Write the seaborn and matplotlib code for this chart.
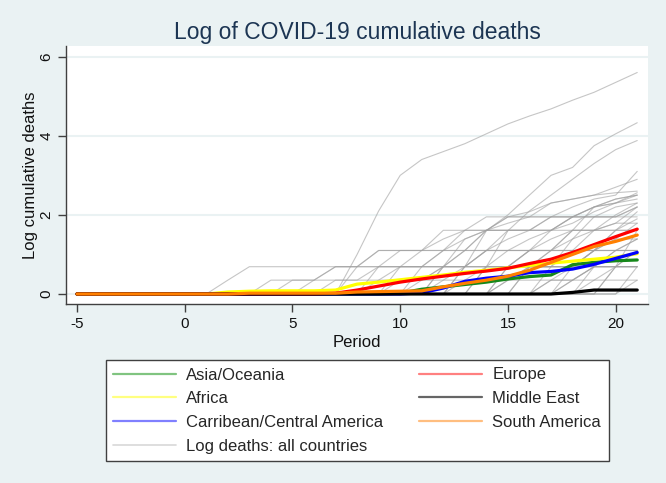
import matplotlib
matplotlib.use("Agg")
import matplotlib.pyplot as plt
from matplotlib.lines import Line2D
import pandas as pd
import seaborn as sns

# Periods shown on the x axis
periods = list(range(-5, 22))

# Regional averages (log cumulative deaths), one value per period -5..21
asia_oceania = [0] * 15 + [0.02, 0.12, 0.18, 0.24, 0.30, 0.38, 0.44, 0.48, 0.74, 0.80, 0.84, 0.86]
africa = [0] * 7 + [0.05, 0.07, 0.08, 0.08, 0.08, 0.10, 0.25, 0.30, 0.36, 0.42, 0.48, 0.55,
                    0.60, 0.66, 0.72, 0.78, 0.83, 0.88, 0.93, 1.02]
carribean = [0] * 16 + [0.03, 0.15, 0.32, 0.40, 0.45, 0.54, 0.57, 0.63, 0.75, 0.90, 1.05]
europe = [0] * 12 + [0.02, 0.10, 0.20, 0.30, 0.38, 0.45, 0.52, 0.58, 0.65, 0.77, 0.88,
                     1.05, 1.25, 1.45, 1.64]
middle_east = [0] * 23 + [0.04, 0.10, 0.10, 0.10]
south_america = [0] * 8 + [0.02] * 5 + [0.05, 0.06, 0.07, 0.08, 0.18, 0.27, 0.35, 0.45,
                                        0.60, 0.80, 1.00, 1.20, 1.33, 1.49]

region_names = ["Asia/Oceania", "Africa", "Carribean/Central America",
                "Europe", "Middle East", "South America"]
region_colors = ["#16881a", "#ffff00", "#0000ff", "#ff0000", "#000000", "#ff8000"]
legend_colors = ["#80c480", "#ffff80", "#8080ff", "#ff8080", "#666666", "#ffbe80"]

# Individual countries: (period of last zero, values from that period on to 21)
country_paths = [
    (7, [0, 1.0, 2.1, 3.0, 3.4, 3.6, 3.8, 4.05, 4.3, 4.5, 4.68, 4.9, 5.1, 5.35, 5.6]),
    (12, [0, 0.69, 1.6, 2.0, 2.5, 3.0, 3.2, 3.75, 4.05, 4.33]),
    (13, [0, 0.69, 1.6, 2.1, 2.5, 2.9, 3.3, 3.65, 3.88]),
    (9, [0, 0.69, 1.1, 1.1, 1.61, 1.61, 1.95, 2.08, 2.3, 2.4, 2.5, 2.56, 2.6]),
    (10, [0, 0.69, 1.1, 1.39, 1.61, 1.79, 1.95, 2.3, 2.4, 2.5, 2.7, 2.9]),
    (11, [0, 0.69, 1.1, 1.1, 1.39, 1.61, 1.95, 2.2, 2.4, 2.5, 3.1]),
    (14, [0, 0.69, 1.1, 1.61, 1.95, 2.2, 2.3, 2.4]),
    (8, [0, 0.69, 1.1, 1.1, 1.61, 1.61, 1.61, 1.61, 1.61, 1.61, 1.61, 1.61, 1.61, 1.61]),
    (7, [0, 0.69] + [1.1] * 13),
    (1, [0, 0.35] + [0.69] * 19),
    (3, [0] + [0.35] * 18),
    (5, [0, 0.35, 0.69, 0.69, 1.1, 1.1, 1.1, 1.39, 1.61] + [1.95] * 8),
    (15, [0, 0.69, 1.1, 1.61, 2.2, 2.4, 2.5]),
    (16, [0, 0.69, 1.39, 1.95, 2.2, 2.3]),
    (12, [0, 0.35, 0.69, 0.69, 1.1, 1.1, 1.1, 1.61, 1.79, 1.79]),
    (17, [0, 0.69, 1.1, 1.61, 2.08]),
    (13, [0, 0, 0.35, 0.69, 0.69, 0.69, 1.1, 1.1, 1.1]),
    (18, [0, 0.69, 1.1, 1.39]),
    (19, [0, 0.69, 1.1]),
    (10, [0, 0.35, 0.69, 0.69, 0.69, 0.69, 0.69, 0.69, 1.1, 1.1, 1.1, 1.1]),
    (6, [0, 0.35, 0.35, 0.69, 0.69, 0.69, 1.1, 1.1, 1.61, 1.61, 1.61, 1.61, 1.95, 1.95, 1.95, 2.2]),
    (11, [0, 0.69, 1.39, 1.61, 1.95, 1.95, 1.95, 1.95, 1.95, 1.95, 2.2]),
    (14, [0, 0.69, 1.1, 1.1, 1.61, 1.61, 2.0, 2.3]),
    (16, [0, 0.35, 0.69, 1.1, 1.61, 1.9]),
    (19, [0, 0.69, 1.61]),
    (20, [0, 0.69]),
    (15, [0, 0, 0.35, 0.35, 0.69, 0.69, 0.69]),
    (9, [0, 0.35, 0.35, 0.69, 1.1, 1.61, 1.61, 1.61, 1.61, 1.79, 2.08, 2.3, 2.5]),
    (12, [0, 0.69, 1.1, 1.61, 1.61, 1.95, 1.95, 2.2, 2.4, 2.5]),
    (17, [0, 0.35, 0.69, 0.69, 1.1]),
    (4, [0, 0.35, 0.35] + [0.69] * 15),
    (13, [0, 0.69, 1.1, 1.39, 1.61, 1.95, 2.2, 2.3, 2.56]),
    (18, [0, 0.35, 0.69, 0.69]),
    (11, [0, 0.35, 0.69, 1.1, 1.1, 1.1, 1.39, 1.61, 1.61, 1.61, 1.61]),
    (20, [0, 0.35]),
    (14, [0, 0.35, 0.69, 0.69, 0.69, 1.1, 1.39, 1.79]),
    (15, [0, 0.69, 1.1, 1.39, 1.61, 1.79, 2.2]),
    (16, [0, 0, 0.35, 0.69, 1.1, 1.39]),
    (8, [0, 0.35, 0.69, 0.69, 0.69, 0.69, 1.1, 1.1, 1.1, 1.1, 1.1, 1.1, 1.39, 1.39]),
]

# long tables for seaborn
rows = []
for i, (start, vals) in enumerate(country_paths):
    full = [0] * (start - periods[0]) + vals
    for p, v in zip(periods, full):
        rows.append({"period": p, "value": v, "country": i})
gray_df = pd.DataFrame(rows)

region_series = [asia_oceania, africa, carribean, europe, middle_east, south_america]
reg_rows = []
for name, vals in zip(region_names, region_series):
    for p, v in zip(periods, vals):
        reg_rows.append({"period": p, "value": v, "region": name})
region_df = pd.DataFrame(reg_rows)

sns.set_style("ticks")
plt.rcParams["font.family"] = ["Liberation Sans", "DejaVu Sans"]
plt.rcParams["axes.unicode_minus"] = False

bg = "#eaf2f3"
fig = plt.figure(figsize=(6.66, 4.83), dpi=100, facecolor=bg)
ax = fig.add_axes([66 / 666, 1 - 304 / 483, (648 - 66) / 666, (304 - 46) / 483])
ax.set_facecolor("white")

sns.lineplot(data=gray_df, x="period", y="value", units="country", estimator=None,
             color="#a0a0a0", linewidth=0.8, alpha=0.6, legend=False, ax=ax)
sns.lineplot(data=region_df, x="period", y="value", hue="region", hue_order=region_names,
             palette=region_colors, linewidth=2.3, legend=False, ax=ax)

ax.set_xlim(-5.51, 21.5)
ax.set_ylim(-0.253, 6.27)
ax.set_xticks([-5, 0, 5, 10, 15, 20])
ax.set_yticks([0, 2, 4, 6])
ax.yaxis.grid(True, color=bg, linewidth=1.5)
ax.xaxis.grid(False)
ax.set_axisbelow(True)
for s in ["top", "right"]:
    ax.spines[s].set_visible(False)
for s in ["left", "bottom"]:
    ax.spines[s].set_color("#404040")
    ax.spines[s].set_linewidth(1.0)
ax.tick_params(axis="both", length=6, width=1, color="#404040", labelsize=11, pad=3,
               labelcolor="#111111")
for lab in ax.get_yticklabels():
    lab.set_rotation(90)
    lab.set_va("center")

ax.set_xlabel("Period", fontsize=12, labelpad=3, color="#111111")
ax.set_ylabel("Log cumulative deaths", fontsize=12, labelpad=1, color="#111111")

fig.text(357 / 666, 1 - 32 / 483, "Log of COVID-19 cumulative deaths", ha="center",
         va="center", fontsize=16.5, color="#1c3553")

handles = [Line2D([], [], color=c, linewidth=1.6) for c in legend_colors]
handles.insert(3, Line2D([], [], color="#d8d8d8", linewidth=1.2))
labels = region_names[:3] + ["Log deaths: all countries"] + region_names[3:]
leg = fig.legend(handles, labels, ncol=2, loc="center",
                 bbox_to_anchor=(105.6 / 666, 1 - 461 / 483, 503 / 666, 101 / 483),
                 mode="expand", borderaxespad=0, frameon=True, fancybox=False,
                 edgecolor="#404040", facecolor="white", framealpha=1, fontsize=12,
                 handlelength=3.8, handletextpad=0.6, labelspacing=0.52, borderpad=0.45)
leg.get_frame().set_linewidth(1.0)

fig.savefig("out.png", dpi=100, facecolor=bg)
